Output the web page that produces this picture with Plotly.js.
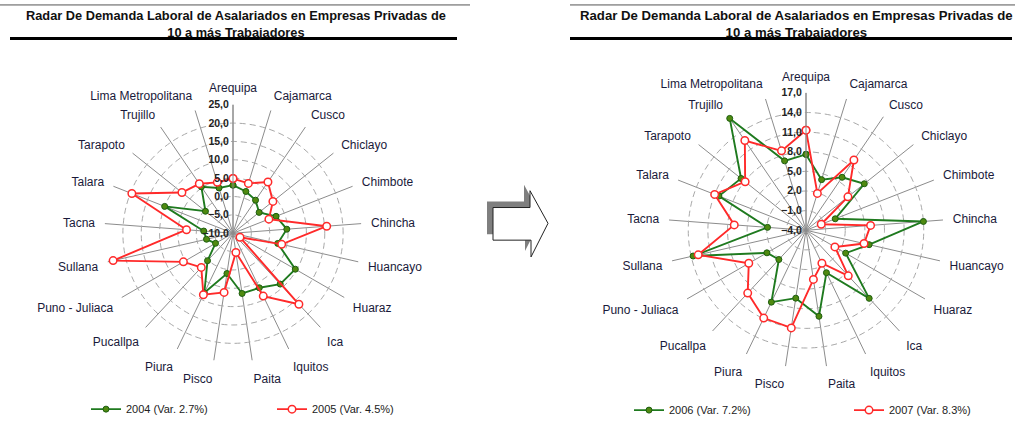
<!DOCTYPE html>
<html>
<head>
<meta charset="utf-8">
<script src="https://cdn.plot.ly/plotly-3.0.1.min.js"></script>
<style>
  html, body { margin: 0; padding: 0; background: #fff; }
  #chart { width: 1015px; height: 425px; }
</style>
</head>
<body>
<div id="chart"></div>
<script>
// regions, clockwise from the top
const regions = ["Arequipa", "Cajamarca", "Cusco", "Chiclayo", "Chimbote", "Chincha", "Huancayo",
  "Huaraz", "Ica", "Iquitos", "Paita", "Pisco", "Piura", "Pucallpa", "Puno - Juliaca",
  "Sullana", "Tacna", "Talara", "Tarapoto", "Trujillo", "Lima Metropolitana"];

// variation (%) per region
const var2004 = [3.1, 1.9, 0.9, -0.9, 2.6, 4.7, 2.5, 9.6, 8.9, 6.5, 6.6, 1.1, 8.0, 0.2, -4.5, -2.6, -2.0, 10.0, -0.4, 5.3, 2.9];
const var2005 = [4.9, 4.2, 6.9, 3.9, 0.5, 15.6, 3.6, -7.8, 16.4, 9.0, -4.7, 6.3, 8.6, 2.7, 5.6, 23.5, 2.7, 19.6, 7.8, 6.3, 4.5];
const var2006 = [7.6, 4.1, 5.8, 7.4, 0.8, 14.0, 5.9, 3.0, 10.2, 3.2, 9.3, 6.5, 8.2, 2.1, 2.9, 13.7, 1.9, 10.3, 8.7, 16.7, 7.1];
const var2007 = [11.3, 1.9, 9.0, 4.2, -1.5, 5.9, 5.1, 1.1, 5.5, 1.6, 3.6, 11.1, 10.9, 9.1, 6.1, 12.9, 7.0, 11.0, 7.9, 12.6, 8.7];

const names = ["2004 (Var. 2.7%)", "2005 (Var. 4.5%)", "2006 (Var. 7.2%)", "2007 (Var. 8.3%)"];
const leftTicks = [-10, -5, 0, 5, 10, 15, 20, 25];
const rightTicks = [-4, -1, 2, 5, 8, 11, 14, 17];
const titleText = "Radar De Demanda Laboral de Asalariados en Empresas Privadas de<br>10 a más Trabajadores";

const W = 1015, H = 425;
const px = x => x / W;
const py = y => 1 - y / H;

function domainFor(cx, cy, r){
  return { x: [px(cx - r), px(cx + r)], y: [py(cy + r), py(cy - r)] };
}

const GREEN = "#1f7a1f", RED = "#ff2a2a";
const FONT = "Liberation Sans, Arial, sans-serif";

function closed(arr){ return arr.concat([arr[0]]); }

function series(vals, name, subplot, legend, green){
  return {
    type: "scatterpolar",
    mode: "lines+markers",
    r: closed(vals),
    theta: closed(regions),
    subplot: subplot,
    legend: legend,
    name: name,
    showlegend: true,
    line: { color: green ? GREEN : RED, width: 1.9 },
    marker: green
      ? { size: 6, color: "#4f8a10", line: { color: "#1d5e10", width: 1 } }
      : { size: 7.5, color: "#ffffff", line: { color: RED, width: 1.5 } },
    hoverinfo: "theta+r+name"
  };
}

function polarCfg(cx, cy, r, ticks){
  return {
    domain: domainFor(cx, cy, r),
    bgcolor: "rgba(0,0,0,0)",
    radialaxis: {
      range: [ticks[0], ticks[ticks.length - 1]],
      tickvals: ticks,
      tickformat: ".1f",
      angle: 90,
      side: "counterclockwise",
      tickangle: 90,
      showline: true,
      linecolor: "#8a8a8a",
      linewidth: 1,
      ticks: "",
      gridcolor: "#a8a8a8",
      griddash: "6px,4px",
      gridwidth: 1,
      tickfont: { family: FONT, size: 10.5, color: "#222", weight: "bold" }
    },
    angularaxis: {
      type: "category",
      categoryarray: regions,
      direction: "clockwise",
      rotation: 90,
      showline: false,
      ticks: "outside",
      ticklen: 7,
      tickcolor: "rgba(0,0,0,0)",
      gridcolor: "#8c8c8c",
      gridwidth: 1,
      tickfont: { family: FONT, size: 12, color: "#1a1a3a" }
    }
  };
}

function legendCfg(x, y){
  return {
    x: x, y: y, xanchor: "left", yanchor: "middle",
    orientation: "h",
    bgcolor: "rgba(0,0,0,0)",
    font: { family: FONT, size: 11, color: "#222" },
    itemwidth: 30
  };
}

// block arrow between the two radars, with a grey shadow
function arrowPath(dx, dy){
  const pts = [[493,210],[530,210],[530,193],[548,226],[531,260],[531,243],[493,243]];
  return "M" + pts.map(p => px(p[0] + dx) + "," + py(p[1] + dy)).join(" L") + " Z";
}

const shapes = [
  { type: "line", xref: "paper", yref: "paper", x0: px(0), x1: px(470), y0: py(5), y1: py(5), line: { color: "#555", width: 1 } },
  { type: "line", xref: "paper", yref: "paper", x0: px(10), x1: px(457), y0: py(39), y1: py(39), line: { color: "#000", width: 3 } },
  { type: "line", xref: "paper", yref: "paper", x0: px(570), x1: px(1015), y0: py(5), y1: py(5), line: { color: "#555", width: 1 } },
  { type: "line", xref: "paper", yref: "paper", x0: px(570), x1: px(1012), y0: py(39), y1: py(39), line: { color: "#000", width: 3 } },
  { type: "path", xref: "paper", yref: "paper", path: arrowPath(-6, -6), fillcolor: "#7f7f7f", line: { width: 0 } },
  { type: "path", xref: "paper", yref: "paper", path: arrowPath(0, 0), fillcolor: "#ffffff", line: { color: "#222", width: 1 } }
];

const annotations = [
  { text: titleText, xref: "paper", yref: "paper", x: px(236), y: py(24), xanchor: "center", yanchor: "middle",
    showarrow: false, font: { family: FONT, size: 12.8, color: "#111", weight: "bold" } },
  { text: titleText, xref: "paper", yref: "paper", x: px(796), y: py(24), xanchor: "center", yanchor: "middle",
    showarrow: false, font: { family: FONT, size: 13.2, color: "#111", weight: "bold" } }
];

const data = [
  series(var2004, names[0], "polar", "legend", true),
  series(var2005, names[1], "polar", "legend2", false),
  series(var2006, names[2], "polar2", "legend3", true),
  series(var2007, names[3], "polar2", "legend4", false)
];

const layout = {
  width: W, height: H,
  margin: { l: 0, r: 0, t: 0, b: 0 },
  paper_bgcolor: "#ffffff",
  separators: ",.",
  showlegend: true,
  font: { family: FONT },
  polar: polarCfg(233, 236, 130, leftTicks),
  polar2: polarCfg(806, 233, 139, rightTicks),
  legend: legendCfg(px(86), py(414)),
  legend2: legendCfg(px(272), py(414)),
  legend3: legendCfg(px(629), py(415)),
  legend4: legendCfg(px(849), py(415)),
  shapes: shapes,
  annotations: annotations
};

Plotly.newPlot("chart", data, layout, { displayModeBar: false, responsive: false });
</script>
</body>
</html>
